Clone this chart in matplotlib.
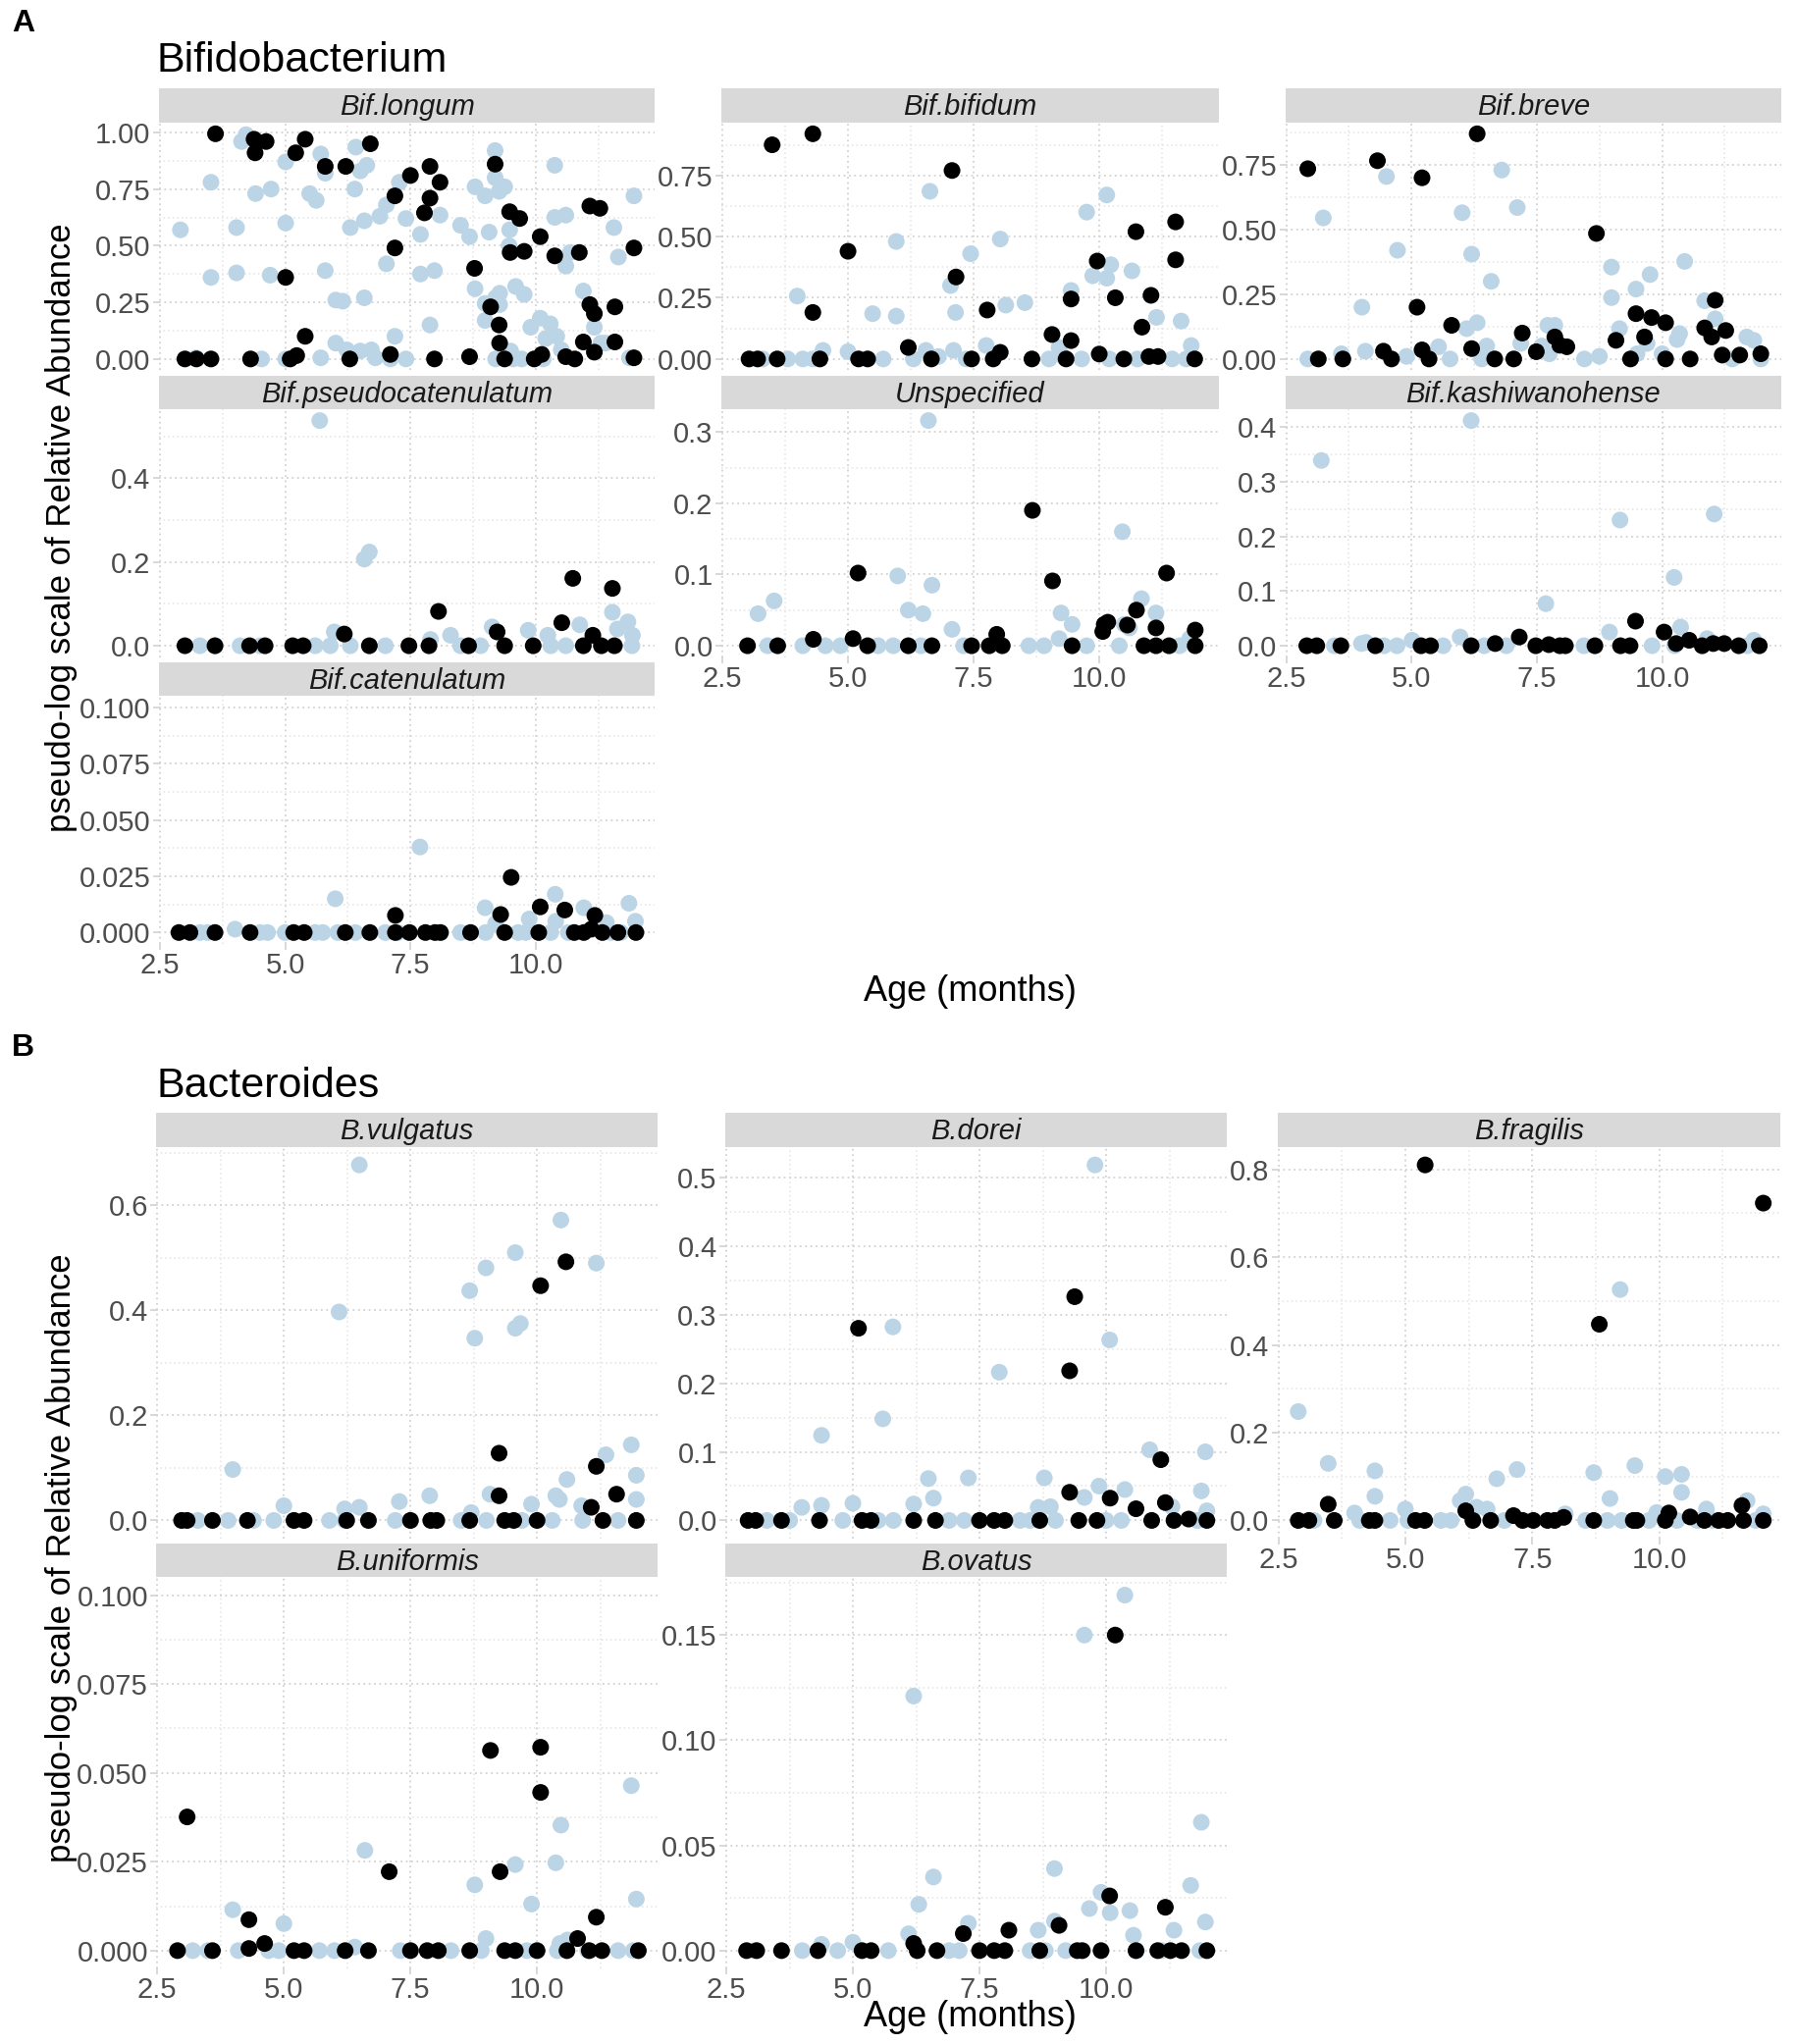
import matplotlib.pyplot as plt
import numpy as np
from matplotlib.ticker import FixedLocator, FixedFormatter

plt.rcParams['font.family'] = ['Liberation Sans', 'DejaVu Sans']

# ---- data: (age in months, relative abundance) per species, per group ----
# light blue group / black group
longum_blue = [(2.91, 0.57), (3.22, 0.005), (3.52, 0.78), (3.52, 0.36), (4.03, 0.58), (4.03, 0.38),
               (4.13, 0.96), (4.22, 0.99), (4.41, 0.73), (4.72, 0.75), (4.53, 0), (4.7, 0.37),
               (5.01, 0.60), (5.01, 0.87), (5.01, 0), (5.49, 0.73), (5.62, 0.70), (5.71, 0.905),
               (5.8, 0.82), (5.8, 0.39), (5.71, 0.005), (6.01, 0.26), (6.15, 0.255), (6.01, 0.07),
               (6.23, 0.04), (6.3, 0.58), (6.39, 0.75), (6.41, 0.935), (6.5, 0.83), (6.63, 0.855),
               (6.58, 0.27), (6.58, 0.61), (6.5, 0.035), (6.72, 0.04), (6.8, 0.005), (6.89, 0.63),
               (7.02, 0.68), (7.02, 0.42), (7.19, 0.10), (7.1, 0), (7.28, 0.78), (7.41, 0.62),
               (7.41, 0), (7.7, 0.55), (7.7, 0.375), (7.98, 0.39), (7.89, 0.15), (8.09, 0.635),
               (8.5, 0.59), (8.68, 0.54), (8.79, 0.76), (8.99, 0.72), (8.79, 0.31), (8.99, 0.17),
               (8.99, 0.245), (9.07, 0.56), (9.19, 0.92), (9.19, 0.80), (9.27, 0.74), (9.38, 0.76),
               (9.28, 0.29), (9.2, 0.27), (9.28, 0.24), (9.2, 0), (9.48, 0.57), (9.47, 0.50),
               (9.6, 0.32), (9.77, 0.285), (9.55, 0), (9.72, 0), (9.5, 0.035), (9.9, 0.14),
               (10.09, 0.18), (10.29, 0.155), (10.2, 0.09), (10.42, 0.10), (10.38, 0.855),
               (10.38, 0.625), (10.6, 0.635), (10.6, 0.41), (10.69, 0.47), (10.51, 0.04),
               (10.15, 0), (10.95, 0.30), (11.17, 0.14), (11.3, 0.07), (11.39, 0.07),
               (11.56, 0.58), (11.65, 0.45), (11.96, 0.72), (11.87, 0.005)]
longum_black = [(3.0, 0), (3.23, 0), (3.52, 0), (4.31, 0), (3.61, 0.994), (4.38, 0.97), (4.62, 0.96),
                (4.40, 0.91), (5.21, 0.91), (5.40, 0.97), (5.80, 0.85), (6.21, 0.85), (6.70, 0.95),
                (7.19, 0.72), (7.50, 0.81), (7.89, 0.85), (7.89, 0.71), (8.09, 0.78), (7.78, 0.645),
                (7.19, 0.49), (5.01, 0.36), (5.40, 0.10), (5.1, 0), (5.23, 0.015), (6.29, 0),
                (7.1, 0.02), (7.98, 0), (8.68, 0.01), (9.19, 0.86), (8.78, 0.40), (9.1, 0.23),
                (9.27, 0.15), (9.28, 0.07), (9.38, 0), (9.48, 0.65), (9.68, 0.62), (9.49, 0.47),
                (9.77, 0.475), (10.09, 0.54), (9.97, 0), (10.12, 0.02), (10.38, 0.455), (10.6, 0.01),
                (10.78, 0), (10.87, 0.47), (11.08, 0.675), (11.28, 0.665), (11.08, 0.24),
                (11.17, 0.20), (11.58, 0.23), (10.95, 0.075), (11.17, 0.03), (11.58, 0.075),
                (11.96, 0.49), (11.96, 0.005)]

bifidum_blue = [(3.3, 0), (3.8, 0), (3.99, 0.257), (4.1, 0), (4.3, 0), (4.5, 0.035), (5.0, 0.03),
                (5.49, 0.185), (5.7, 0), (5.96, 0.175), (5.96, 0.48), (6.3, 0), (6.55, 0.035),
                (6.8, 0.01), (7.1, 0.035), (7.35, 0), (6.63, 0.685), (7.04, 0.30), (7.14, 0.19),
                (7.44, 0.43), (7.75, 0.055), (8.03, 0.49), (8.14, 0.22), (8.52, 0.23), (9.0, 0),
                (9.2, 0.047), (9.28, 0.01), (9.65, 0), (9.44, 0.28), (9.75, 0.60), (9.87, 0.34),
                (10.15, 0.33), (10.15, 0.67), (10.23, 0.385), (10.65, 0.36), (11.14, 0.17),
                (11.63, 0.155), (11.83, 0.055), (10.2, 0), (10.76, 0), (11.45, 0), (11.73, 0)]
bifidum_black = [(3.03, 0), (3.2, 0), (3.49, 0.875), (3.59, 0), (4.3, 0.92), (4.3, 0.19), (4.44, 0),
                 (5.0, 0.44), (5.21, 0), (5.39, 0), (6.2, 0.047), (6.66, 0), (7.07, 0.77), (7.15, 0.335),
                 (7.46, 0), (7.77, 0.20), (7.89, 0), (8.03, 0.027), (8.66, 0), (9.06, 0.10), (9.34, 0),
                 (9.44, 0.075), (9.44, 0.245), (9.96, 0.40), (10.0, 0.02), (10.32, 0.25), (10.49, 0),
                 (10.73, 0.52), (10.85, 0.13), (10.99, 0.01), (11.17, 0.01), (11.03, 0.26),
                 (11.52, 0.56), (11.52, 0.405), (11.9, 0)]

breve_blue = [(2.93, 0), (3.24, 0.545), (3.6, 0.02), (4.01, 0.2), (4.08, 0.03), (4.5, 0.705),
              (4.72, 0.42), (4.9, 0.01), (5.3, 0.02), (5.54, 0.047), (5.77, 0), (6.01, 0.565),
              (6.1, 0.117), (6.2, 0.405), (6.31, 0.14), (6.59, 0.30), (6.5, 0.05), (6.4, 0),
              (6.8, 0.73), (7.11, 0.585), (7.18, 0.06), (7.72, 0.13), (7.86, 0.13), (7.6, 0.05),
              (7.75, 0.02), (8.45, 0), (8.75, 0.01), (8.99, 0.355), (8.99, 0.237), (9.15, 0.117),
              (9.48, 0.27), (9.76, 0.326), (9.5, 0.02), (9.7, 0.06), (10.0, 0.02), (10.3, 0.075),
              (10.45, 0.377), (10.35, 0.098), (10.85, 0.225), (11.06, 0.155), (11.69, 0.085),
              (11.83, 0.072), (11.4, 0), (11.97, 0)]
breve_black = [(2.93, 0.735), (3.14, 0), (3.63, 0), (4.32, 0.766), (4.44, 0.03), (4.6, 0), (5.11, 0.20),
               (5.21, 0.70), (5.21, 0.035), (5.35, 0), (5.8, 0.13), (6.2, 0.04), (6.31, 0.87),
               (6.66, 0), (7.04, 0), (7.21, 0.10), (7.49, 0.028), (7.86, 0.085), (7.96, 0.053),
               (8.1, 0.047), (8.69, 0.485), (9.08, 0.072), (9.37, 0), (9.48, 0.175), (9.65, 0.085),
               (9.79, 0.16), (10.07, 0.14), (10.07, 0), (10.56, 0), (10.85, 0.12), (11.06, 0.227),
               (10.99, 0.085), (11.27, 0.11), (11.2, 0.015), (11.55, 0.015), (11.97, 0.02)]

pseudo_blue = [(3.3, 0), (3.6, 0), (4.1, 0), (4.5, 0), (5.6, 0), (5.9, 0), (6.3, 0), (7.0, 0),
               (5.69, 0.538), (6.58, 0.207), (6.68, 0.224), (5.98, 0.033), (7.9, 0.015),
               (8.3, 0.025), (8.5, 0), (8.9, 0), (9.13, 0.045), (9.85, 0.037), (10.24, 0.025),
               (10.3, 0), (10.6, 0), (10.88, 0.05), (11.53, 0.08), (11.84, 0.057), (11.63, 0.04),
               (11.93, 0.025), (11.92, 0)]
pseudo_black = [(3.0, 0), (3.6, 0), (4.29, 0), (4.6, 0), (5.15, 0), (5.36, 0), (6.18, 0.028),
                (6.68, 0), (7.47, 0), (7.87, 0), (8.06, 0.082), (8.66, 0), (9.23, 0.033), (9.38, 0),
                (9.95, 0), (10.52, 0.055), (10.74, 0.161), (10.95, 0), (11.14, 0.025), (11.31, 0),
                (11.53, 0.137), (11.57, 0)]

unspec_blue = [(3.21, 0.045), (3.4, 0), (3.53, 0.063), (4.1, 0), (4.55, 0), (4.85, 0), (5.6, 0),
               (5.9, 0), (5.99, 0.098), (6.2, 0.05), (6.45, 0), (6.49, 0.045), (6.6, 0.316),
               (6.67, 0.085), (7.07, 0.023), (7.3, 0), (8.6, 0), (8.9, 0), (9.2, 0.01), (9.24, 0.046),
               (9.46, 0.03), (9.75, 0), (10.4, 0), (10.46, 0.16), (10.5, 0.03), (10.6, 0.025),
               (10.84, 0.066), (11.13, 0.046), (11.6, 0), (11.8, 0.01)]
unspec_black = [(3.0, 0), (3.6, 0), (4.31, 0.009), (5.1, 0.01), (5.2, 0.102), (5.39, 0), (6.2, 0),
                (6.67, 0), (7.46, 0), (7.81, 0), (7.96, 0.016), (8.07, 0), (8.67, 0.19), (9.07, 0.091),
                (9.46, 0), (10.07, 0.02), (10.17, 0.033), (10.1, 0.03), (10.56, 0.029), (10.74, 0.05),
                (10.89, 0), (11.13, 0.025), (11.13, 0), (11.34, 0.102), (11.39, 0), (11.91, 0.022),
                (11.91, 0)]

kashi_blue = [(3.2, 0.339), (3.46, 0), (4.0, 0.004), (4.09, 0.006), (4.45, 0), (4.71, 0), (5.01, 0.01),
              (5.63, 0), (5.97, 0.016), (6.19, 0.412), (6.45, 0), (6.89, 0), (7.68, 0.077), (8.44, 0),
              (8.95, 0.025), (9.16, 0.23), (9.8, 0), (10.24, 0.125), (10.25, 0), (10.37, 0.034),
              (10.9, 0.013), (11.04, 0.241), (11.7, 0), (11.83, 0.01)]
kashi_black = [(2.91, 0), (3.11, 0), (3.59, 0), (4.28, 0), (5.19, 0), (5.38, 0), (6.19, 0), (6.67, 0.004),
               (7.15, 0.016), (7.48, 0), (7.74, 0.002), (7.96, 0), (8.07, 0), (8.66, 0), (9.17, 0),
               (9.36, 0), (9.47, 0.045), (10.04, 0.025), (10.28, 0.004), (10.54, 0.01), (10.8, 0),
               (11.02, 0.004), (11.24, 0.004), (11.53, 0), (11.94, 0)]

caten_blue = [(3.3, 0), (3.45, 0), (4.0, 0.0015), (4.5, 0), (4.65, 0), (5.0, 0), (5.6, 0), (5.75, 0),
              (6.0, 0.015), (6.05, 0), (6.4, 0), (7.0, 0), (7.25, 0), (7.69, 0.038), (8.5, 0),
              (8.99, 0.011), (9.0, 0), (9.2, 0.004), (9.65, 0), (9.8, 0), (9.87, 0.006), (10.3, 0),
              (10.39, 0.017), (10.4, 0.005), (10.65, 0), (10.96, 0.011), (11.41, 0.0044), (11.5, 0),
              (11.7, 0), (11.86, 0.013), (11.99, 0.005)]
caten_black = [(2.88, 0), (3.1, 0), (3.6, 0), (4.3, 0), (5.17, 0), (5.38, 0), (6.2, 0), (6.69, 0),
               (7.2, 0), (7.2, 0.0076), (7.48, 0), (7.8, 0), (7.99, 0), (8.1, 0), (8.7, 0), (9.3, 0.008),
               (9.38, 0), (9.51, 0.0245), (10.06, 0), (10.09, 0.0114), (10.58, 0.01), (10.77, 0),
               (10.96, 0), (11.11, 0.0015), (11.18, 0.0076), (11.33, 0), (11.64, 0), (12.0, 0)]

vulg_blue = [(3.3, 0), (3.9, 0), (3.99, 0.097), (4.4, 0), (4.8, 0), (5.0, 0.028), (5.2, 0), (5.9, 0),
             (6.09, 0.397), (6.2, 0.022), (6.2, 0), (6.49, 0.677), (6.49, 0.025), (7.2, 0), (7.28, 0.036),
             (7.5, 0), (7.88, 0.047), (8.5, 0), (8.67, 0.4375), (8.7, 0.015), (8.77, 0.347), (8.99, 0.481),
             (9.0, 0), (9.07, 0.05), (9.57, 0.51), (9.57, 0.366), (9.67, 0.375), (9.7, 0), (9.89, 0.031),
             (10.3, 0), (10.37, 0.047), (10.44, 0.04), (10.47, 0.572), (10.59, 0.078), (10.88, 0.028),
             (10.9, 0), (11.17, 0.49), (11.36, 0.125), (11.6, 0), (11.86, 0.144), (11.96, 0.086),
             (11.96, 0.04)]
vulg_black = [(2.98, 0), (3.09, 0), (3.59, 0), (4.28, 0), (5.2, 0), (5.4, 0), (6.24, 0), (6.67, 0),
              (7.5, 0), (7.9, 0), (8.02, 0), (8.67, 0), (9.25, 0.128), (9.25, 0.047), (9.36, 0),
              (9.54, 0), (10.0, 0), (10.07, 0.447), (10.57, 0.4925), (11.07, 0.025), (11.17, 0.103),
              (11.3, 0), (11.57, 0.05), (11.96, 0)]

dorei_blue = [(3.3, 0), (3.75, 0), (3.99, 0.019), (4.38, 0.124), (4.38, 0.022), (4.8, 0), (5.0, 0.025),
              (5.5, 0), (5.59, 0.148), (5.79, 0.282), (5.8, 0), (6.2, 0.024), (6.49, 0.061),
              (6.59, 0.0325), (6.9, 0), (7.2, 0), (7.28, 0.062), (7.89, 0.216), (8.3, 0), (8.5, 0),
              (8.66, 0.019), (8.78, 0.062), (8.9, 0.02), (9.0, 0), (9.57, 0.0335), (9.78, 0.518),
              (9.86, 0.05), (10.0, 0), (10.07, 0.263), (10.3, 0), (10.37, 0.045), (10.86, 0.103),
              (11.3, 0.02), (11.8, 0), (11.88, 0.043), (11.96, 0.10), (11.99, 0.014)]
dorei_black = [(2.93, 0), (3.08, 0), (3.59, 0), (4.34, 0), (5.11, 0.28), (5.18, 0), (5.36, 0), (6.2, 0),
               (6.63, 0), (7.5, 0), (7.79, 0), (8.0, 0), (8.69, 0), (9.28, 0.218), (9.28, 0.041),
               (9.38, 0.326), (9.46, 0), (9.82, 0), (10.08, 0.0325), (10.59, 0.017), (10.9, 0),
               (11.08, 0.0885), (11.17, 0.026), (11.34, 0), (11.63, 0.002), (11.99, 0)]

frag_blue = [(2.89, 0.248), (3.2, 0), (3.48, 0.13), (4.0, 0.017), (4.1, 0), (4.4, 0.113), (4.4, 0.055),
             (4.7, 0), (5.0, 0.026), (5.05, 0), (5.7, 0), (5.9, 0), (6.08, 0.045), (6.19, 0.06),
             (6.4, 0.03), (6.61, 0.026), (6.8, 0.095), (6.95, 0), (7.2, 0.116), (8.15, 0.015),
             (8.55, 0), (8.71, 0.109), (8.98, 0), (9.03, 0.05), (9.23, 0.526), (9.26, 0),
             (9.52, 0.125), (9.8, 0), (9.95, 0.018), (10.12, 0.1), (10.35, 0), (10.44, 0.105),
             (10.44, 0.064), (10.75, 0), (10.93, 0.026), (11.05, 0), (11.73, 0.045), (11.9, 0),
             (12.05, 0.015)]
frag_black = [(2.89, 0), (3.1, 0), (3.48, 0.037), (3.6, 0), (4.29, 0), (4.4, 0), (5.2, 0), (5.38, 0),
              (5.39, 0.81), (6.19, 0.022), (6.33, 0), (6.68, 0), (7.13, 0.011), (7.31, 0), (7.52, 0),
              (7.8, 0), (7.94, 0), (8.12, 0.007), (8.71, 0), (8.82, 0.447), (9.49, 0), (9.56, 0),
              (10.12, 0), (10.19, 0.017), (10.61, 0.008), (10.89, 0), (11.17, 0), (11.35, 0),
              (11.63, 0.034), (11.66, 0), (12.05, 0.723), (12.05, 0)]

unif_blue = [(3.2, 0), (3.5, 0), (3.99, 0.0115), (4.1, 0), (4.7, 0), (4.9, 0), (5.0, 0.0076), (5.7, 0),
             (6.0, 0), (6.4, 0.001), (6.6, 0.0282), (7.3, 0), (8.3, 0), (8.77, 0.0185), (8.9, 0),
             (8.99, 0.0034), (9.57, 0.0242), (9.8, 0), (9.89, 0.0131), (10.37, 0.0247), (10.4, 0),
             (10.45, 0.002), (10.47, 0.0353), (10.6, 0.003), (11.0, 0), (11.6, 0), (11.86, 0.0464),
             (11.9, 0), (11.96, 0.0145)]
unif_black = [(2.9, 0), (3.09, 0.0376), (3.59, 0), (4.31, 0.0087), (4.31, 0.0006), (4.62, 0.002),
              (5.2, 0), (5.4, 0), (6.21, 0), (6.67, 0), (7.08, 0.0222), (7.5, 0), (7.83, 0), (8.05, 0),
              (8.67, 0), (9.08, 0.0563), (9.27, 0.0222), (9.36, 0), (9.57, 0), (10.0, 0),
              (10.07, 0.0572), (10.07, 0.0445), (10.59, 0), (10.8, 0.0034), (11.03, 0),
              (11.17, 0.0094), (11.28, 0), (12.0, 0)]

ovatus_blue = [(3.05, 0), (4.0, 0), (4.38, 0.003), (4.7, 0), (5.0, 0.004), (5.7, 0), (6.1, 0.008),
               (6.2, 0.121), (6.3, 0.022), (6.59, 0.035), (6.9, 0), (7.1, 0), (7.28, 0.013), (8.5, 0),
               (8.66, 0.0097), (8.8, 0), (8.98, 0.039), (8.98, 0.014), (9.2, 0), (9.57, 0.150),
               (9.67, 0.02), (9.9, 0.0277), (10.08, 0.018), (10.37, 0.169), (10.47, 0.019),
               (10.54, 0.0073), (10.6, 0), (11.1, 0), (11.34, 0.0097), (11.67, 0.031), (11.85, 0),
               (11.88, 0.061), (11.96, 0.0136)]
ovatus_black = [(2.9, 0), (3.1, 0), (3.59, 0), (4.31, 0), (5.18, 0), (5.36, 0), (6.2, 0.0034), (6.27, 0),
                (6.66, 0), (7.18, 0.0081), (7.5, 0), (7.79, 0), (8.0, 0), (8.08, 0.0097), (8.69, 0),
                (9.07, 0.012), (9.43, 0), (9.53, 0), (9.9, 0), (10.07, 0.026), (10.18, 0.150),
                (10.59, 0), (11.02, 0), (11.17, 0.0206), (11.27, 0), (11.49, 0), (11.99, 0)]

# facet titles, y breaks and label formats
bif_names = ['Bif.longum', 'Bif.bifidum', 'Bif.breve', 'Bif.pseudocatenulatum', 'Unspecified',
             'Bif.kashiwanohense', 'Bif.catenulatum']
bif_sets = [(longum_blue, longum_black), (bifidum_blue, bifidum_black), (breve_blue, breve_black),
            (pseudo_blue, pseudo_black), (unspec_blue, unspec_black), (kashi_blue, kashi_black),
            (caten_blue, caten_black)]
bif_breaks = [[0, 0.25, 0.5, 0.75, 1.0], [0, 0.25, 0.5, 0.75], [0, 0.25, 0.5, 0.75], [0, 0.2, 0.4],
              [0, 0.1, 0.2, 0.3], [0, 0.1, 0.2, 0.3, 0.4], [0, 0.025, 0.05, 0.075, 0.1]]
bif_fmt = ['%.2f', '%.2f', '%.2f', '%.1f', '%.1f', '%.1f', '%.3f']
bif_top = [None, None, None, None, None, None, 0.1]

bac_names = ['B.vulgatus', 'B.dorei', 'B.fragilis', 'B.uniformis', 'B.ovatus']
bac_sets = [(vulg_blue, vulg_black), (dorei_blue, dorei_black), (frag_blue, frag_black),
            (unif_blue, unif_black), (ovatus_blue, ovatus_black)]
bac_breaks = [[0, 0.2, 0.4, 0.6], [0, 0.1, 0.2, 0.3, 0.4, 0.5], [0, 0.2, 0.4, 0.6, 0.8],
              [0, 0.025, 0.05, 0.075, 0.1], [0, 0.05, 0.1, 0.15]]
bac_fmt = ['%.1f', '%.1f', '%.1f', '%.3f', '%.2f']
bac_top = [None, None, None, 0.1, None]

age_breaks = [2.5, 5.0, 7.5, 10.0]
age_labels = ['2.5', '5.0', '7.5', '10.0']

LIGHT = '#bcd5e6'
DARK = '#000000'
GRID = '#d2d2d2'
TICK_TXT = '#4d4d4d'

# layout measured on a 1380 x 1568 copy of the figure
W, H = 1380.0, 1568.0
STRIP = 26

fig = plt.figure(figsize=(18.31, 20.83), dpi=100)


def box(x0, x1, y0, y1):
    return [x0 / W, 1 - y1 / H, (x1 - x0) / W, (y1 - y0) / H]


def draw_panel(xs, ytop, height, name, sets, breaks, fmt, top, show_x):
    x0, x1 = xs
    strip = fig.add_axes(box(x0, x1, ytop, ytop + STRIP))
    strip.set_facecolor('#d9d9d9')
    strip.set_xticks([])
    strip.set_yticks([])
    for s in strip.spines.values():
        s.set_visible(False)
    strip.text(0.5, 0.45, name, style='italic', ha='center', va='center', fontsize=21, color='#1a1a1a')

    ax = fig.add_axes(box(x0, x1, ytop + STRIP, ytop + STRIP + height))
    blue = np.array(sets[0], dtype=float)
    black = np.array(sets[1], dtype=float)
    vals = np.concatenate([blue[:, 1], black[:, 1]])
    hi = vals.max() if top is None else max(vals.max(), top)
    lo = vals.min()
    span = hi - lo
    ax.set_ylim(lo - 0.05 * span, hi + 0.05 * span)
    ax.set_xlim(2.48, 12.38)

    ax.scatter(blue[:, 0], blue[:, 1], s=150, c=LIGHT, edgecolors='none', zorder=3)
    ax.scatter(black[:, 0], black[:, 1], s=150, c=DARK, edgecolors='none', zorder=4)

    step = breaks[1] - breaks[0]
    yminor = [b - step / 2 for b in breaks[1:]] + [breaks[-1] + step / 2]
    ax.yaxis.set_major_locator(FixedLocator(breaks))
    ax.yaxis.set_major_formatter(FixedFormatter([fmt % b for b in breaks]))
    ax.yaxis.set_minor_locator(FixedLocator(yminor))
    ax.xaxis.set_major_locator(FixedLocator(age_breaks))
    ax.xaxis.set_minor_locator(FixedLocator([3.75, 6.25, 8.75, 11.25]))
    if show_x:
        ax.xaxis.set_major_formatter(FixedFormatter(age_labels))
        ax.tick_params(axis='x', length=4, color=GRID)
    else:
        ax.set_xticklabels([])
        ax.tick_params(axis='x', length=0)
    ax.tick_params(axis='y', length=4, color=GRID)
    ax.tick_params(which='major', labelsize=21, labelcolor=TICK_TXT, pad=2, width=1.2)
    ax.tick_params(which='minor', length=0)

    ax.grid(which='major', color=GRID, linestyle=(0, (1, 2)), linewidth=1.3)
    ax.grid(which='minor', color='#e3e3e3', linestyle=(0, (1, 2)), linewidth=1.1)
    ax.set_axisbelow(True)
    for s in ax.spines.values():
        s.set_visible(False)
    return ax


# ---- panel A: Bifidobacterium ----
a_cols = [(122, 503), (554, 936), (987, 1368)]
a_rows = [68, 288, 508]
a_showx = [False, False, False, False, True, True, True]
for i, name in enumerate(bif_names):
    r, c = divmod(i, 3)
    draw_panel(a_cols[c], a_rows[r], 190, name, bif_sets[i], bif_breaks[i], bif_fmt[i], bif_top[i],
               a_showx[i])

fig.text(18 / W, 1 - 18 / H, 'A', fontsize=23, weight='bold', ha='center', va='center')
fig.text(120 / W, 1 - 47 / H, 'Bifidobacterium', fontsize=31, ha='left', va='center')
fig.text(745 / W, 1 - 761 / H, 'Age (months)', fontsize=26, ha='center', va='center')
fig.text(47 / W, 1 - 405 / H, 'pseudo-log scale of Relative Abundance', fontsize=25,
         rotation=90, ha='center', va='center')

# ---- panel B: Bacteroides ----
b_cols = [(120, 505), (557, 942), (981, 1367)]
b_rows = [854, 1184]
b_showx = [False, False, True, True, True]
for i, name in enumerate(bac_names):
    r, c = divmod(i, 3)
    draw_panel(b_cols[c], b_rows[r], 300, name, bac_sets[i], bac_breaks[i], bac_fmt[i], bac_top[i],
               b_showx[i])

fig.text(18 / W, 1 - 804 / H, 'B', fontsize=23, weight='bold', ha='center', va='center')
fig.text(120 / W, 1 - 833 / H, 'Bacteroides', fontsize=31, ha='left', va='center')
fig.text(745 / W, 1 - 1547 / H, 'Age (months)', fontsize=26, ha='center', va='center')
fig.text(47 / W, 1 - 1195 / H, 'pseudo-log scale of Relative Abundance', fontsize=25,
         rotation=90, ha='center', va='center')

fig.savefig('out.png', dpi=100, facecolor='white')
